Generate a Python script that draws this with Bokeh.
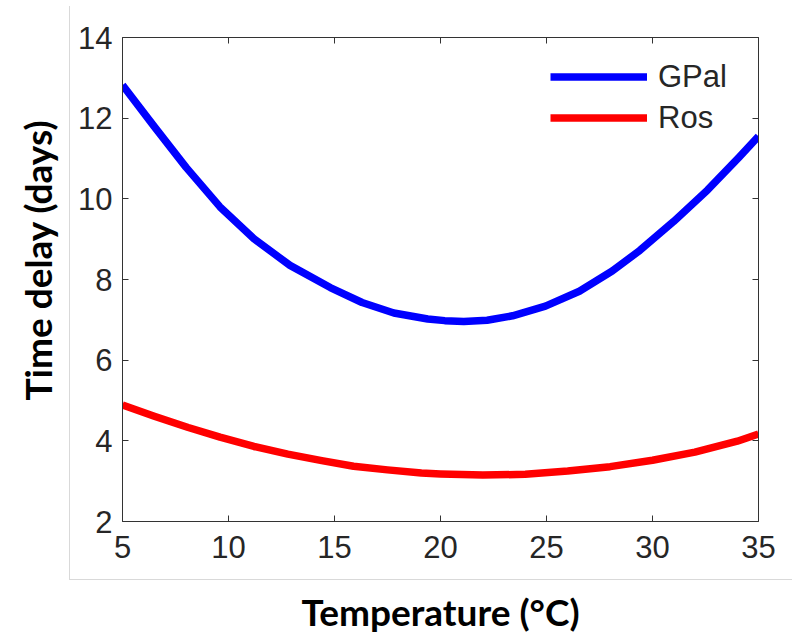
from bokeh.plotting import figure
from bokeh.models import (Range1d, FixedTicker, LinearAxis, Legend, LegendItem,
                          Title, InlineStyleSheet)
from bokeh.embed import file_html
from bokeh.resources import INLINE

# ---- data ----
gpal_temp = [5.0, 6.5, 8.0, 9.6, 11.2, 12.9, 14.8, 16.3, 17.8, 19.4, 20.2,
             21.1, 22.2, 23.4, 24.95, 26.55, 28.1, 29.4, 31.0, 32.6, 34.1, 35.0]
gpal_delay = [12.82, 11.79, 10.78, 9.80, 9.01, 8.35, 7.80, 7.43, 7.17, 7.02, 6.98,
              6.96, 6.99, 7.10, 7.34, 7.71, 8.21, 8.72, 9.44, 10.22, 11.04, 11.55]

ros_temp = [5.0, 6.5, 8.1, 9.6, 11.2, 12.8, 14.4, 15.9, 17.5, 19.1, 20.0,
            22.0, 24.0, 26.0, 28.0, 30.0, 32.0, 34.0, 35.0]
ros_delay = [4.89, 4.61, 4.33, 4.09, 3.86, 3.67, 3.51, 3.37, 3.28, 3.20, 3.18,
             3.15, 3.17, 3.25, 3.36, 3.52, 3.72, 3.99, 4.17]

series_names = ["GPal", "Ros"]
x_ticks = [5, 10, 15, 20, 25, 30, 35]
y_ticks = [2, 4, 6, 8, 10, 12, 14]
x_label = "Temperature (°C)"
y_label = "Time delay (days)"

AXIS_COLOR = "#333333"
TEXT_COLOR = "#262626"

p = figure(width=792, height=636, output_backend="svg", toolbar_location=None,
           x_range=Range1d(5, 35), y_range=Range1d(2, 14),
           min_border_left=122, min_border_right=34,
           min_border_top=37, min_border_bottom=113)
p.background_fill_color = "white"
p.border_fill_color = None
p.outline_line_color = None
p.xgrid.visible = False
p.ygrid.visible = False

# faint left/bottom border of the original picture (drawn behind the canvas)
p.stylesheets = [InlineStyleSheet(css="""
:host {
  background-color: white;
  background-image: linear-gradient(#d9d9d9, #d9d9d9), linear-gradient(#d9d9d9, #d9d9d9);
  background-size: 1px 573px, 723px 1px;
  background-position: 69px 6px, 69px 579px;
  background-repeat: no-repeat;
}
""")]

def style_axis(ax, ticks, show_labels, standoff):
    ax.ticker = FixedTicker(ticks=ticks)
    ax.axis_line_color = AXIS_COLOR
    ax.axis_line_width = 1
    ax.major_tick_line_color = AXIS_COLOR
    ax.major_tick_line_width = 1
    ax.major_tick_in = 6
    ax.major_tick_out = 0
    ax.minor_tick_line_color = None
    ax.major_label_standoff = standoff
    if show_labels:
        ax.major_label_text_font = "Liberation Sans"
        ax.major_label_text_font_size = "31px"
        ax.major_label_text_color = TEXT_COLOR
    else:
        ax.major_label_text_font_size = "0px"
        ax.major_label_text_color = None

style_axis(p.xaxis[0], x_ticks, True, 14)
style_axis(p.yaxis[0], y_ticks, True, 10)

xa = p.xaxis[0]
xa.axis_label = x_label
xa.axis_label_text_font = "Lato"
xa.axis_label_text_font_style = "bold"
xa.axis_label_text_font_size = "37px"
xa.axis_label_text_color = "black"
xa.axis_label_standoff = 28

top_ax = LinearAxis()
style_axis(top_ax, x_ticks, False, 0)
p.add_layout(top_ax, "above")
right_ax = LinearAxis()
style_axis(right_ax, y_ticks, False, 0)
p.add_layout(right_ax, "right")

p.add_layout(Title(text=y_label, align="left", offset=121, vertical_align="top",
                   standoff=27, text_font="Lato", text_font_style="bold",
                   text_font_size="37px", text_color="black"), "left")

r1 = p.line(gpal_temp, gpal_delay, line_color="#0000ff", line_width=7.5,
            line_join="round")
r2 = p.line(ros_temp, ros_delay, line_color="#ff0000", line_width=7.5,
            line_join="round")

legend = Legend(items=[LegendItem(label=series_names[0], renderers=[r1]),
                       LegendItem(label=series_names[1], renderers=[r2])],
                location=(428, 383), glyph_width=97, glyph_height=41,
                label_height=41, spacing=0, padding=0, margin=0,
                label_standoff=11, border_line_color=None,
                background_fill_alpha=0,
                label_text_font="Liberation Sans", label_text_font_size="31px",
                label_text_color=TEXT_COLOR)
p.add_layout(legend, "center")

open("out.html", "w").write(file_html(p, INLINE))
